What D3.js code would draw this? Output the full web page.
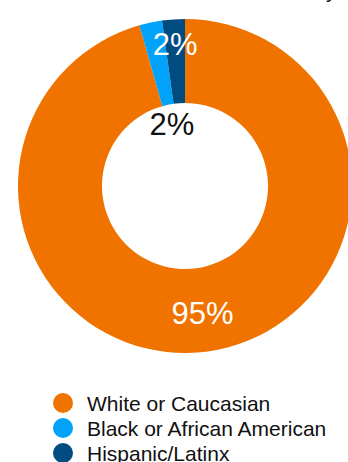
<!DOCTYPE html>
<html>
<head>
<meta charset="utf-8">
<script src="https://cdn.jsdelivr.net/npm/d3@7"></script>
<style>
  html, body { margin: 0; padding: 0; background: #fff; }
  svg { display: block; font-family: "Liberation Sans", Arial, Helvetica, sans-serif; }
</style>
</head>
<body>
<div id="chart"></div>
<script>

var categories = ['White or Caucasian', 'Black or African American', 'Hispanic/Latinx'];
var values = [95.6, 2.2, 2.2];
var valueLabels = ['95%', '2%', '2%'];
var colors = ['#f07300', '#00a2fa', '#004c80'];
var title = 'Race and Ethnicity';

var width = 348,
	height = 462,
	center = { x: 185, y: 186 },
	outer = 167,
	inner = 83;

var data = categories.map(function(c, i){
	return { name: c, value: values[i], label: valueLabels[i], color: colors[i] };
});

var svg = d3.select('#chart')
	.append('svg')
	.attr('width', width)
	.attr('height', height);

// title is mostly cut off at the top of the picture
svg.append('text')
	.attr('x', 337)
	.attr('y', -3)
	.attr('text-anchor', 'end')
	.attr('font-size', 22)
	.attr('fill', '#111')
	.text(title);

var pie = d3.pie()
	.sort(null)
	.value(function(d){ return d.value; });

var arc = d3.arc()
	.innerRadius(inner)
	.outerRadius(outer);

var g = svg.append('g')
	.attr('transform', 'translate(' + center.x + ',' + center.y + ')');

var arcs = pie(data);

g.selectAll('path')
	.data(arcs)
	.enter()
	.append('path')
	.attr('d', arc)
	.attr('fill', function(d){ return d.data.color; });

// big slice label at centroid, the small ones pushed out / into the hole
function labelPos(d, i){
	var r;
	if (d.endAngle - d.startAngle > 0.5) r = (inner + outer) / 2 + 3;
	else if (i % 2 === 1) r = 64;
	else r = 143;
	var a = (d.startAngle + d.endAngle) / 2;
	return [Math.sin(a) * r, -Math.cos(a) * r];
}

g.selectAll('text.val')
	.data(arcs)
	.enter()
	.append('text')
	.attr('class', 'val')
	.attr('transform', function(d, i){
		var p = labelPos(d, i);
		return 'translate(' + p[0] + ',' + p[1] + ')';
	})
	.attr('text-anchor', 'middle')
	.attr('dy', '0.36em')
	.attr('font-size', 31)
	.attr('fill', function(d, i){
		return (d.endAngle - d.startAngle < 0.5 && i % 2 === 1) ? '#111' : '#fff';
	})
	.text(function(d){ return d.data.label; });

var legend = svg.append('g')
	.attr('transform', 'translate(63,403)');

var row = legend.selectAll('g')
	.data(data)
	.enter()
	.append('g')
	.attr('transform', function(d, i){ return 'translate(0,' + (i * 25) + ')'; });

row.append('circle')
	.attr('r', 10)
	.attr('fill', function(d){ return d.color; });

row.append('text')
	.attr('x', 24)
	.attr('dy', '0.36em')
	.attr('font-size', 21)
	.attr('fill', '#111')
	.text(function(d){ return d.name; });

</script>
</body>
</html>
